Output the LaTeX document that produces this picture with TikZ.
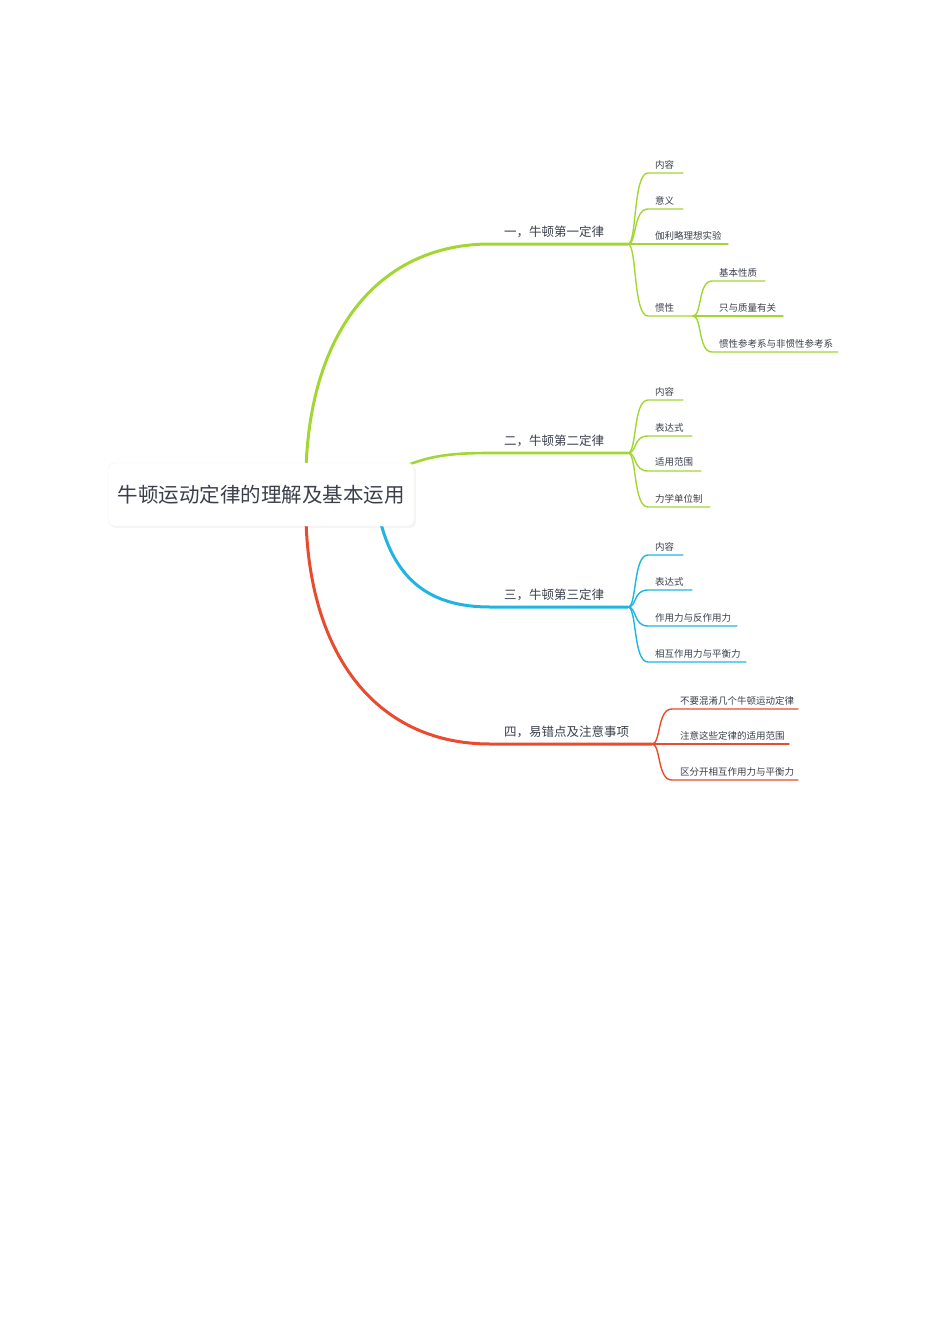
\documentclass[tikz,border=0pt]{standalone}
\usepackage{fontspec}
\usetikzlibrary{shadows}
\newfontfamily\cjk{Noto Sans CJK SC}
\definecolor{gr}{HTML}{A2D733}
\definecolor{bl}{HTML}{1EB6E0}
\definecolor{rd}{HTML}{E84B2E}
\definecolor{tx}{HTML}{3A3F4A}
\begin{document}
\begin{tikzpicture}[x=1pt,y=-1pt,
  leaf/.style={font=\cjk\fontsize{9.5}{11}\selectfont,text=tx,inner sep=1pt,anchor=south west},
  brl/.style={font=\cjk\fontsize{12.5}{14}\selectfont,text=tx,inner sep=1pt,anchor=south west},
  lw/.style={line width=1.4pt,line cap=round}]
\useasboundingbox (0,0) rectangle (950,1344);
% main branches
\coordinate (h1) at (628,244);
\coordinate (h2) at (628,453);
\coordinate (h3) at (628,607);
\coordinate (h4) at (652,744);
\draw[gr,line width=3pt] (306,470) .. controls (310,330) and (380,244) .. (490,244) -- (h1);
\draw[gr,line width=2.6pt] (405,466) .. controls (430,456) and (450,453) .. (490,453) -- (h2);
\draw[bl,line width=3pt] (380,520) .. controls (395,580) and (430,607) .. (490,607) -- (h3);
\draw[rd,line width=3pt] (306,520) .. controls (310,660) and (380,744) .. (490,744) -- (h4);
% root
\node[draw=black!6,fill=white,rounded corners=6pt,minimum width=306pt,minimum height=63pt,
  font=\cjk\fontsize{20.5}{24}\selectfont,text=tx,drop shadow={opacity=0.08}] (root) at (261,494.5) {牛顿运动定律的理解及基本运用};
% branch labels
\node[brl] (b1) at (503,239) {一，牛顿第一定律};
\node[brl] (b2) at (503,448) {二，牛顿第二定律};
\node[brl] (b3) at (503,602) {三，牛顿第三定律};
\node[brl] (b4) at (503,739) {四，易错点及注意事项};
% branch 1 leaves
\foreach \y/\e/\t/\n in {173/683/内容/a1,209/683/意义/a2,244/728/伽利略理想实验/a3,316/693/惯性/a4}{
  \node[leaf] (\n) at (654,\y-3) {\t};
  \draw[gr,lw] (h1) .. controls (637,244) and (633,\y) .. (648,\y) -- (\e,\y);}
\coordinate (h5) at (693,316);
\foreach \y/\e/\t/\n in {281/765/基本性质/c1,316/783/只与质量有关/c2,352/838/惯性参考系与非惯性参考系/c3}{
  \node[leaf] (\n) at (718,\y-3) {\t};
  \draw[gr,lw] (h5) .. controls (702,316) and (698,\y) .. (712,\y) -- (\e,\y);}
% branch 2
\foreach \y/\e/\t/\n in {400/683/内容/d1,436/692/表达式/d2,471/701/适用范围/d3,507/710/力学单位制/d4}{
  \node[leaf] (\n) at (654,\y-3) {\t};
  \draw[gr,lw] (h2) .. controls (637,453) and (633,\y) .. (648,\y) -- (\e,\y);}
% branch 3
\foreach \y/\e/\t/\n in {555/683/内容/e1,590/692/表达式/e2,626/737/作用力与反作用力/e3,662/746/相互作用力与平衡力/e4}{
  \node[leaf] (\n) at (654,\y-3) {\t};
  \draw[bl,lw] (h3) .. controls (637,607) and (633,\y) .. (648,\y) -- (\e,\y);}
% branch 4
\foreach \y/\e/\t/\n in {709/798/不要混淆几个牛顿运动定律/f1,744/789/注意这些定律的适用范围/f2,780/798/区分开相互作用力与平衡力/f3}{
  \node[leaf] (\n) at (679,\y-3) {\t};
  \draw[rd,lw] (h4) .. controls (661,744) and (657,\y) .. (672,\y) -- (\e,\y);}
\end{tikzpicture}
\end{document}
